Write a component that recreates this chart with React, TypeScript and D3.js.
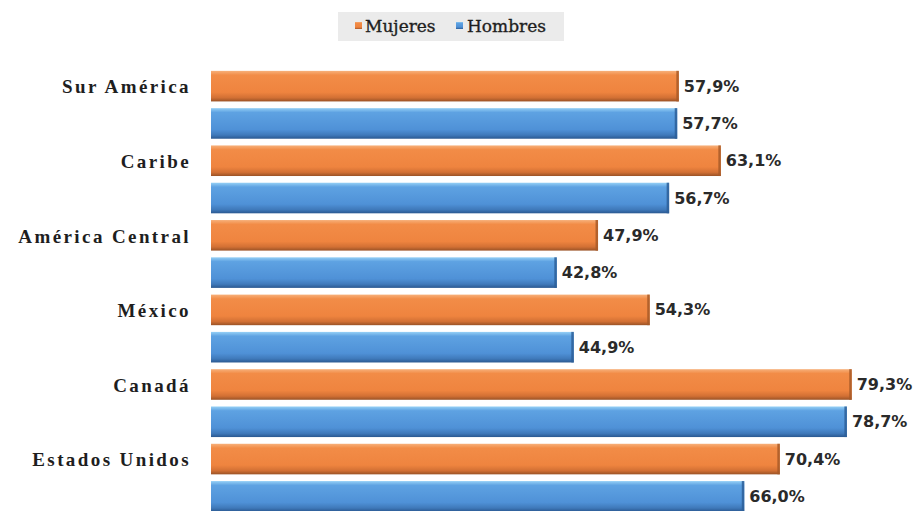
import { scaleBand, scaleLinear } from "d3";

const categories = [
  "Sur América",
  "Caribe",
  "América Central",
  "México",
  "Canadá",
  "Estados Unidos",
];
const series = ["Mujeres", "Hombres"];
const mujeres = [57.9, 63.1, 47.9, 54.3, 79.3, 70.4];
const hombres = [57.7, 56.7, 42.8, 44.9, 78.7, 66.0];

const width = 919;
const height = 511;

// gradient stops per series: top highlight, body, dark bottom edge
const palette: Record<string, { id: string; stops: [number, string][]; edge: string }> = {
  Mujeres: {
    id: "grad-muj",
    edge: "#a85a28",
    stops: [
      [0, "#f7b07a"],
      [0.14, "#f28c47"],
      [0.7, "#ef843f"],
      [0.88, "#d27034"],
      [1, "#9a5226"],
    ],
  },
  Hombres: {
    id: "grad-hom",
    edge: "#2d5f99",
    stops: [
      [0, "#95d0f6"],
      [0.14, "#5ea2e2"],
      [0.7, "#4f91d7"],
      [0.88, "#3f79ba"],
      [1, "#2a5890"],
    ],
  },
};

const fmt = (v: number) => `${v.toFixed(1).replace(".", ",")}%`;

export default function App() {
  const x = scaleLinear().domain([0, 80]).range([211, 857.4]);

  const y0 = scaleBand<string>()
    .domain(categories)
    .range([67.5, 515])
    .padding(0);

  const y1 = scaleBand<string>()
    .domain(series)
    .range([0, y0.bandwidth()])
    .paddingInner(0.18)
    .paddingOuter(0.09);

  const rows = categories.map((c, i) => ({
    category: c,
    values: [
      { key: "Mujeres", value: mujeres[i] },
      { key: "Hombres", value: hombres[i] },
    ],
  }));

  return (
    <>
      <style>{`body{margin:0;background:#fff}`}</style>
      <svg width={width} height={height} style={{ display: "block" }}>
        <defs>
          {series.map((s) => (
            <linearGradient
              key={s}
              id={palette[s].id}
              x1="0"
              y1="0"
              x2="0"
              y2="1"
            >
              {palette[s].stops.map(([o, c]) => (
                <stop key={o} offset={o} stopColor={c} />
              ))}
            </linearGradient>
          ))}
        </defs>

        <rect width={width} height={height} fill="#ffffff" />

        {/* Legend */}
        <g fontFamily="'DejaVu Serif', serif" fontSize={17} fill="#1e1e1e" stroke="#1e1e1e" strokeWidth={0.35}>
          <rect x={338} y={12} width={226} height={29} fill="#ebebeb" stroke="none" />
          <rect x={355} y={22} width={7} height={7} fill="url(#grad-muj)" stroke="none" />
          <text x={365} y={32}>
            Mujeres
          </text>
          <rect x={456} y={22} width={7} height={7} fill="url(#grad-hom)" stroke="none" />
          <text x={467} y={32}>
            Hombres
          </text>
        </g>

        {/* Bars */}
        {rows.map((r) => (
          <g key={r.category} transform={`translate(0,${y0(r.category)})`}>
            {r.values.map((d) => {
              const by = y1(d.key) ?? 0;
              const bh = y1.bandwidth();
              const bw = x(d.value) - x(0);
              return (
                <g key={d.key}>
                  <rect
                    x={x(0)}
                    y={by}
                    width={bw}
                    height={bh}
                    fill={`url(#${palette[d.key].id})`}
                  />
                  <rect
                    x={x(d.value) - 2.5}
                    y={by}
                    width={2.5}
                    height={bh}
                    fill={palette[d.key].edge}
                    opacity={0.85}
                  />
                  <text
                    x={x(d.value) + 5}
                    y={by + bh / 2}
                    dy="0.35em"
                    fontFamily="'DejaVu Sans', sans-serif"
                    fontWeight="bold"
                    fontSize={16}
                    fill="#2a2a2a"
                  >
                    {fmt(d.value)}
                  </text>
                </g>
              );
            })}
            <text
              x={191}
              y={(y1("Mujeres") ?? 0) + y1.bandwidth() / 2}
              dy="0.38em"
              textAnchor="end"
              fontFamily="'Liberation Serif', serif"
              fontWeight="bold"
              fontSize={19}
              letterSpacing={2.4}
              fill="#1e1e1e"
            >
              {r.category}
            </text>
          </g>
        ))}
      </svg>
    </>
  );
}
